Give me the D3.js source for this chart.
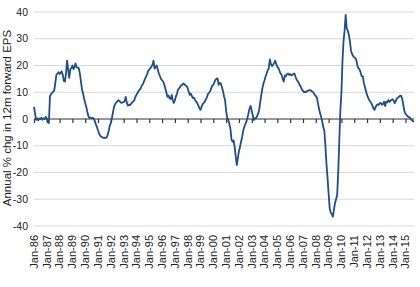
<!DOCTYPE html>
<html>
<head>
<meta charset="utf-8">
<script src="https://cdn.jsdelivr.net/npm/d3@7"></script>
<style>
  html, body { margin: 0; padding: 0; background: #fff; }
  svg { display: block; font-family: "Liberation Sans", Arial, sans-serif; }
</style>
</head>
<body>
<svg id="chart" width="420" height="287"></svg>
<script>
// Annual % change in 12m forward EPS, monthly from Jan-86
const startYear = 1986;
const epsChange = [
  4.5, 2, -0.3, 0.3, -0.5, 0.2, 0, 0.5, -0.3, 0.2, 0, 0.8,            // 1986
  0.3, -1.2, -1.5, 8.5, 9.3, 9.8, 10.2, 10.6, 13.5, 16.5, 17, 17.5,    // 1987
  16.8, 17.3, 17.8, 16.5, 14.2, 14, 17, 21.8, 18.5, 15.4, 18.5, 19,    // 1988
  20, 18.6, 19.5, 20.8, 19.3, 19.2, 19, 17, 14, 11, 9.5, 7.5,          // 1989
  6, 4.5, 2.7, 1, 0.4, 0.5, 0.3, 0.4, 0.2, -0.8, -2, -3,               // 1990
  -4.3, -5.5, -6.2, -6.6, -6.8, -7, -7, -7.1, -7, -6, -4.5, -2.5,      // 1991
  -1.5, 0.3, 2.5, 4.6, 5.5, 6.2, 6.5, 7, 6.8, 6.3, 6, 6.2,             // 1992
  6.3, 6.8, 8.3, 6, 5, 5.4, 5.2, 5.7, 6.2, 6.6, 7, 8.3,                // 1993
  9, 9.8, 10.4, 11, 11.4, 12.5, 13, 14, 15, 15.8, 16.8, 18,            // 1994
  18.5, 19, 19.5, 20.3, 21.8, 18.8, 19.5, 20, 18.5, 17, 16, 15,        // 1995
  14.5, 14, 13, 11.5, 10, 8.3, 8.8, 7.7, 7.5, 9, 7, 6,                 // 1996
  7, 8.5, 9.5, 11, 11.5, 12, 12.7, 12.8, 13.3, 13, 12.5, 12.3,         // 1997
  11.5, 10, 9, 9.5, 8.5, 7.8, 8, 7, 6.5, 5.9, 5, 4,                    // 1998
  3.4, 4.6, 5.5, 6, 6.5, 7.3, 8, 9.3, 9.8, 10.3, 11.5, 12.5,           // 1999
  12.7, 13.8, 14.6, 15, 15.2, 12.8, 13.5, 13.3, 12, 10.5, 8.5, 7,      // 2000
  3, 0.3, -0.3, -1.8, -3.5, -7.5, -8.5, -8, -10.5, -14, -17.2, -14.5,  // 2001
  -12, -10.4, -8.5, -6.8, -4.5, -3, -2, -1, 0.5, 2.2, 4, 4.9,          // 2002
  3, 1.2, -0.4, 0.3, 0.3, 1, 2, 3.5, 6.5, 9, 11.5, 13.3,               // 2003
  14.5, 16, 17, 18.2, 19, 22.3, 20.5, 19.8, 20.2, 21, 21.8, 20.5,      // 2004
  19.5, 19, 18, 17, 16.5, 15, 14, 16.3, 16, 16.8, 17, 16.5,            // 2005
  16.8, 16.3, 16.5, 16.8, 17, 15.8, 14.8, 14.2, 13.5, 12.7, 12, 11,    // 2006
  10.5, 10, 10.2, 10, 10.5, 10.6, 10.8, 10.7, 10.5, 10.2, 9.8, 9,      // 2007
  8.6, 8, 6, 3.8, 2.2, 0.8, -0.8, -3, -4.5, -10, -17, -22,             // 2008
  -28, -33.5, -35, -35.5, -36.5, -34, -31.5, -30, -28.5, -20, -8, 3,   // 2009
  10, 22, 29, 33, 38.9, 34, 33, 31.5, 29, 25.5, 24.3, 23.5,            // 2010
  23, 22.8, 22, 20, 19, 18.5, 17.5, 16, 16, 13.5, 12, 10.5,            // 2011
  9, 8, 7.1, 6.5, 6, 5, 4, 3.4, 4.5, 5.2, 5.5, 5.3,                    // 2012
  5.9, 6, 5.3, 5.6, 6.5, 4.8, 6.5, 6.2, 7.1, 6.4, 6.8, 7.2,            // 2013
  7.4, 6.8, 5.9, 6.8, 7.7, 8, 8.3, 8.7, 8.6, 7.5, 5.2, 3,              // 2014
  2, 1.5, 1, 0.8, 0.6, 0, -0.4, -0.8, -1                               // 2015
];
const yTicks = [-40, -30, -20, -10, 0, 10, 20, 30, 40];
const tickYears = d3.range(1986, 2016);
const yTitle = "Annual % chg in 12m forward EPS";

const series = epsChange.map((v, i) => ({ date: new Date(startYear, i, 1), value: v }));

const svg = d3.select("#chart");

const x = d3.scaleTime()
  .domain([new Date(startYear, 0, 1), series[series.length - 1].date])
  .range([34, 414]);

const y = d3.scaleLinear()
  .domain([-40, 40])
  .range([226, 12]);

// gridlines
svg.append("g")
  .selectAll("line")
  .data(yTicks.filter((d) => d !== 0))
  .join("line")
  .attr("x1", 34)
  .attr("x2", 414)
  .attr("y1", (d) => y(d))
  .attr("y2", (d) => y(d))
  .attr("stroke", "#d9d9d9")
  .attr("stroke-width", 1.2);

// y tick labels
svg.append("g")
  .selectAll("text")
  .data(yTicks)
  .join("text")
  .attr("x", 28)
  .attr("y", (d) => y(d))
  .attr("dy", "0.35em")
  .attr("text-anchor", "end")
  .attr("font-size", 10.5)
  .attr("fill", "#222")
  .text((d) => d);

// y title
svg.append("text")
  .attr("transform", "translate(7,118) rotate(-90)")
  .attr("dy", "0.35em")
  .attr("text-anchor", "middle")
  .attr("font-size", 11.5)
  .attr("fill", "#222")
  .text(yTitle);

// zero axis with ticks
const xAxis = d3.axisBottom(x)
  .tickValues(tickYears.map((yr) => new Date(yr, 0, 1)))
  .tickSize(4)
  .tickFormat("");

const axisG = svg.append("g")
  .attr("transform", `translate(0,${y(0)})`)
  .call(xAxis);
axisG.select(".domain").attr("d", `M34,0H414`).attr("stroke", "#333").attr("stroke-width", 1.2);
axisG.selectAll(".tick line").attr("stroke", "#333").attr("stroke-width", 1.2);

// x labels at the bottom
const fmt = d3.timeFormat("%b-%y");
svg.append("g")
  .selectAll("text")
  .data(tickYears)
  .join("text")
  .attr("transform", (yr) => `translate(${x(new Date(yr, 0, 1))},235) rotate(-90)`)
  .attr("dy", "0.35em")
  .attr("text-anchor", "end")
  .attr("font-size", 11)
  .attr("fill", "#222")
  .text((yr) => fmt(new Date(yr, 0, 1)));

// line
const line = d3.line()
  .x((d) => x(d.date))
  .y((d) => y(d.value));

svg.append("path")
  .datum(series)
  .attr("fill", "none")
  .attr("stroke", "#1f4e8a")
  .attr("stroke-width", 1.8)
  .attr("stroke-linejoin", "round")
  .attr("d", line);
</script>
</body>
</html>
